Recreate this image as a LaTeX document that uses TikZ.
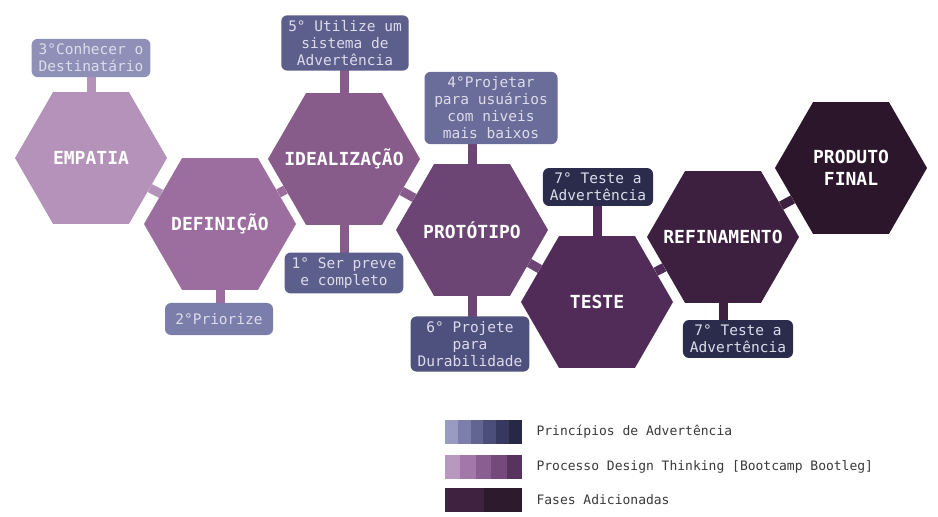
\documentclass[tikz,border=0pt]{standalone}
\usepackage{fontspec}
\setmonofont{DejaVu Sans Mono}
\usetikzlibrary{shapes.geometric,backgrounds}

\definecolor{hexA}{HTML}{B592B9}
\definecolor{hexB}{HTML}{9C6EA0}
\definecolor{hexC}{HTML}{875C8B}
\definecolor{hexD}{HTML}{6C4574}
\definecolor{hexE}{HTML}{512C58}
\definecolor{hexF}{HTML}{3D1F40}
\definecolor{hexG}{HTML}{2C162B}
\definecolor{tipA}{HTML}{8E90B8}
\definecolor{tipB}{HTML}{7B7DAB}
\definecolor{tipC}{HTML}{6A6C9A}
\definecolor{tipD}{HTML}{5C5E8C}
\definecolor{tipE}{HTML}{4E507E}
\definecolor{tipF}{HTML}{2B2C4C}
\definecolor{tiptext}{HTML}{DCDCEA}
\definecolor{legtext}{HTML}{3A3A3A}

\begin{document}
\begin{tikzpicture}[x=1bp, y=-1bp,
  fase/.style = {regular polygon, regular polygon sides=6, minimum size=152bp, inner sep=0pt,
    label={[text=white, align=center, font=\ttfamily\bfseries\fontsize{18bp}{22bp}\selectfont]center:#1}},
  dica/.style = {rounded corners=6bp, inner xsep=7bp, inner ysep=5bp, text=tiptext,
    align=center, font=\ttfamily\fontsize{14.5bp}{17bp}\selectfont},
  elo/.style = {line width=9bp},
  leg/.style = {anchor=west, text=legtext, font=\ttfamily\fontsize{13bp}{15bp}\selectfont}]
\useasboundingbox (0,0) rectangle (938,517);

% fases do processo
\node[fase=EMPATIA, fill=hexA] (1) at (91,158) {};
\node[fase=DEFINIÇÃO, fill=hexB] (2) at (220,224) {};
\node[fase=IDEALIZAÇÃO, fill=hexC] (3) at (344,159) {};
\node[fase=PROTÓTIPO, fill=hexD] (4) at (472,230) {};
\node[fase=TESTE, fill=hexE] (5) at (597,302) {};
\node[fase=REFINAMENTO, fill=hexF] (6) at (723,237) {};
\node[fase={PRODUTO\\FINAL}, fill=hexG] (7) at (851,168) {};

% principios de advertencia
\node[dica, fill=tipA] (p3) at (91,58) {3°Conhecer o\\Destinatário};
\node[dica, fill=tipD] (p5) at (345,43) {5° Utilize um\\sistema de\\Advertência};
\node[dica, fill=tipC, minimum width=133bp] (p4) at (491,108) {4°Projetar\\para usuários\\com niveis\\mais baixos};
\node[dica, fill=tipF] (p7) at (598,187) {7° Teste a\\Advertência};
\node[dica, fill=tipD] (p1) at (344,273) {1° Ser preve\\e completo};
\node[dica, fill=tipB, minimum width=108bp, minimum height=32bp] (p2) at (219,319) {2°Priorize};
\node[dica, fill=tipE] (p6) at (470,344) {6° Projete\\para\\Durabilidade};
\node[dica, fill=tipF] (p8) at (738,339) {7° Teste a\\Advertência};

\begin{scope}[on background layer]
\fill[white] (0,0) rectangle (938,517);
\draw[elo, hexA] (1) -- (2);
\draw[elo, hexB] (2) -- (3);
\draw[elo, hexC] (3) -- (4);
\draw[elo, hexD] (4) -- (5);
\draw[elo, hexE] (5) -- (6);
\draw[elo, hexF] (6) -- (7);
\draw[elo, hexA] (1) -- (1 |- p3);
\draw[elo, hexB] (2) -- (2 |- p2);
\draw[elo, hexC] (3) -- (3 |- p5);
\draw[elo, hexC] (3) -- (3 |- p1);
\draw[elo, hexD] (4) -- (4 |- p4);
\draw[elo, hexD] (4) -- (4 |- p6);
\draw[elo, hexE] (5) -- (5 |- p7);
\draw[elo, hexF] (6) -- (6 |- p8);
\end{scope}

% legenda
\foreach \c [count=\i from 0] in {9A9BC2,7C7EAC,626491,4C4E7A,36385F,262845}{
  \definecolor{sw}{HTML}{\c}
  \fill[sw] (445+\i*12.83,420) rectangle ++(12.83,24);}
\foreach \c [count=\i from 0] in {B898BE,A278A8,8B5E91,734A7B,57335E}{
  \definecolor{sw}{HTML}{\c}
  \fill[sw] (445+\i*15.4,455) rectangle ++(15.4,24);}
\foreach \c [count=\i from 0] in {3F2240,2D1A2C}{
  \definecolor{sw}{HTML}{\c}
  \fill[sw] (445+\i*38.5,488) rectangle ++(38.5,24);}
\node[leg] (l1) at (533,432) {Princípios de Advertência};
\node[leg] (l2) at (533,467) {Processo Design Thinking [Bootcamp Bootleg]};
\node[leg] (l3) at (533,500) {Fases Adicionadas};
\end{tikzpicture}
\end{document}
